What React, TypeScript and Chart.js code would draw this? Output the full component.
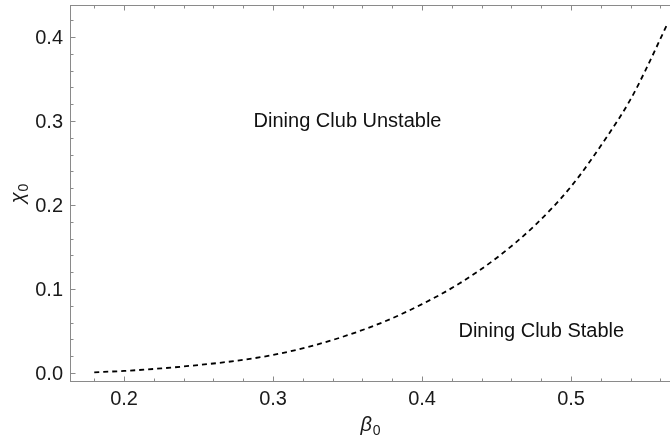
import React, { useEffect, useRef } from "react";
import { Chart, registerables } from "chart.js";

Chart.register(...registerables);

// Boundary curve (beta0 -> chi0)
const beta0 = [0.18, 0.2, 0.225, 0.25, 0.275, 0.3, 0.325, 0.35, 0.375, 0.4, 0.425, 0.45, 0.475, 0.5, 0.525, 0.54, 0.55, 0.565];
const chi0 = [0.0008, 0.0025, 0.0055, 0.0095, 0.0145, 0.0215, 0.0317, 0.045, 0.0614, 0.082, 0.1065, 0.137, 0.1746, 0.222, 0.2837, 0.326, 0.3606, 0.417];

// Axis ticks
const xMajorTicks = [0.2, 0.3, 0.4, 0.5];
const xTickLabels = ["0.2", "0.3", "0.4", "0.5"];
const xMinorTicks = [0.18, 0.22, 0.24, 0.26, 0.28, 0.32, 0.34, 0.36, 0.38, 0.42, 0.44, 0.46, 0.48, 0.52, 0.54, 0.56];
const yMajorTicks = [0, 0.1, 0.2, 0.3, 0.4];
const yTickLabels = ["0.0", "0.1", "0.2", "0.3", "0.4"];
const yMinorTicks = [0.02, 0.04, 0.06, 0.08, 0.12, 0.14, 0.16, 0.18, 0.22, 0.24, 0.26, 0.28, 0.32, 0.34, 0.36, 0.38, 0.42];

// Region annotations
const regionTexts = ["Dining Club Unstable", "Dining Club Stable"];
const regionX = [0.35, 0.48];
const regionY = [0.3, 0.049];

const xTitle = { main: "β", sub: "0" };
const yTitle = { main: "χ", sub: "0" };

const FONT = "'Liberation Sans', Arial, sans-serif";

const framePlugin = {
  id: "frameTicks",
  afterDraw(chart: any) {
    const ctx = chart.ctx as CanvasRenderingContext2D;
    const { left, right, top, bottom } = chart.chartArea;
    const xs = chart.scales.x;
    const ys = chart.scales.y;
    ctx.save();
    // frame
    ctx.strokeStyle = "#8a8a8a";
    ctx.lineWidth = 1;
    ctx.strokeRect(Math.round(left) - 0.5, Math.round(top) + 0.5, Math.round(right) - Math.round(left) + 4, Math.round(bottom) - Math.round(top) - 1);
    const tick = (x1: number, y1: number, x2: number, y2: number) => {
      ctx.beginPath();
      ctx.moveTo(x1, y1);
      ctx.lineTo(x2, y2);
      ctx.stroke();
    };
    const bY = Math.round(bottom) - 0.5;
    const tY = Math.round(top) + 0.5;
    const lX = Math.round(left) - 0.5;
    xMajorTicks.forEach((v) => {
      const p = Math.round(xs.getPixelForValue(v)) + 0.5;
      tick(p, bY, p, bY - 5);
      tick(p, tY, p, tY + 5);
    });
    xMinorTicks.forEach((v) => {
      const p = Math.round(xs.getPixelForValue(v)) + 0.5;
      tick(p, bY, p, bY - 3);
      tick(p, tY, p, tY + 3);
    });
    yMajorTicks.forEach((v) => {
      const p = Math.round(ys.getPixelForValue(v)) + 0.5;
      tick(lX, p, lX + 5, p);
    });
    yMinorTicks.forEach((v) => {
      const p = Math.round(ys.getPixelForValue(v)) + 0.5;
      tick(lX, p, lX + 3, p);
    });
    // tick labels
    ctx.fillStyle = "#1a1a1a";
    ctx.font = `20px ${FONT}`;
    ctx.textAlign = "center";
    ctx.textBaseline = "middle";
    xMajorTicks.forEach((v, i) => {
      ctx.fillText(xTickLabels[i], xs.getPixelForValue(v), bottom + 17);
    });
    ctx.textAlign = "right";
    yMajorTicks.forEach((v, i) => {
      ctx.fillText(yTickLabels[i], left - 8, ys.getPixelForValue(v) + 1);
    });
    // region texts
    ctx.textAlign = "center";
    ctx.fillStyle = "#111";
    regionTexts.forEach((t, i) => {
      ctx.fillText(t, xs.getPixelForValue(regionX[i]), ys.getPixelForValue(regionY[i]));
    });
    // axis titles
    const drawTitle = (main: string, sub: string) => {
      ctx.font = `italic 20px ${FONT}`;
      const w1 = ctx.measureText(main).width;
      ctx.font = `14px ${FONT}`;
      const w2 = ctx.measureText(sub).width;
      const total = w1 + w2 + 1;
      ctx.textAlign = "left";
      ctx.textBaseline = "alphabetic";
      ctx.font = `italic 20px ${FONT}`;
      ctx.fillText(main, -total / 2, 0);
      ctx.font = `14px ${FONT}`;
      ctx.fillText(sub, -total / 2 + w1 + 1, 4);
    };
    ctx.fillStyle = "#1a1a1a";
    ctx.save();
    ctx.translate((left + right) / 2, bottom + 49);
    drawTitle(xTitle.main, xTitle.sub);
    ctx.restore();
    ctx.save();
    ctx.translate(24, (top + bottom) / 2);
    ctx.rotate(-Math.PI / 2);
    drawTitle(yTitle.main, yTitle.sub);
    ctx.restore();
    ctx.restore();
  },
};

export default function App() {
  const canvasRef = useRef<HTMLCanvasElement | null>(null);
  useEffect(() => {
    document.body.style.margin = "0";
    const canvas = canvasRef.current;
    if (!canvas) return;
    const chart = new Chart(canvas, {
      type: "line",
      data: {
        datasets: [
          {
            data: beta0.map((x, i) => ({ x, y: chi0[i] })),
            borderColor: "#000",
            borderWidth: 1.8,
            borderDash: [5, 4],
            pointRadius: 0,
            fill: false,
            cubicInterpolationMode: "monotone",
          },
        ],
      },
      options: {
        animation: false,
        responsive: false,
        devicePixelRatio: 1,
        layout: { padding: { left: 71, right: 0, top: 5, bottom: 61 } },
        plugins: { legend: { display: false }, tooltip: { enabled: false } },
        scales: {
          x: { type: "linear", display: false, min: 0.1644, max: 0.5664 },
          y: { type: "linear", display: false, min: -0.0107, max: 0.4381 },
        },
      },
      plugins: [framePlugin],
    });
    return () => chart.destroy();
  }, []);
  return (
    <div style={{ position: "absolute", left: 0, top: 0, width: 670, height: 443, background: "#fff" }}>
      <canvas ref={canvasRef} width={670} height={443} style={{ display: "block" }} />
    </div>
  );
}
